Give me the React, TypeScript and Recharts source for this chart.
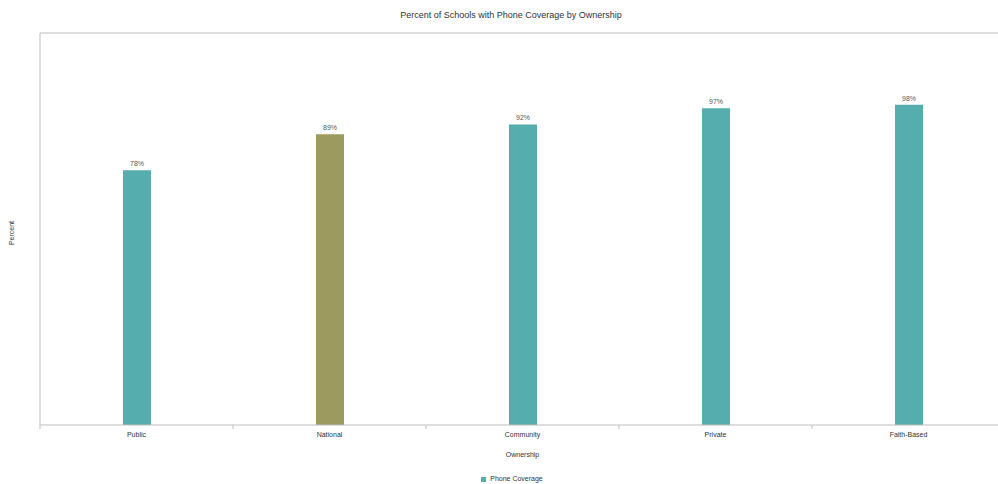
import { BarChart, Bar, XAxis, YAxis, Legend, Cell, LabelList, ReferenceLine } from "recharts";

// categorias y valores
const categorias = ["Public", "National", "Community", "Private", "Faith-Based"];
const cobertura = [78, 89, 92, 97, 98];
const colores = ["#56adae", "#9c9a5f", "#56adae", "#56adae", "#56adae"];

const datos = categorias.map((c, i) => ({ ownership: c, value: cobertura[i] }));

const gris = "#bdbdbd";
const fuente = "'Liberation Sans', Arial, sans-serif";

// tick con marca en el borde izquierdo de cada categoria
function TickCategoria(props: any) {
  const { x, y, payload, width } = props;
  const banda = (width || 965) / categorias.length;
  const bx = x - banda / 2;
  return (
    <g>
      <line x1={bx} x2={bx} y1={y - 7} y2={y - 3} stroke={gris} />
      <text x={x} y={y} dy="0.71em" textAnchor="middle" fontSize={7} fill="#333" fontFamily={fuente}>
        {payload.value}
      </text>
    </g>
  );
}

export default function App() {
  return (
    <div style={{ position: "absolute", left: 0, top: 0, width: 998, height: 484, overflow: "hidden", background: "#fff", fontFamily: fuente }}>
      <div style={{ position: "absolute", top: 10, left: 0, width: 1022, textAlign: "center", fontSize: 9, color: "#333" }}>
        Percent of Schools with Phone Coverage by Ownership
      </div>

      <BarChart
        width={1022}
        height={484}
        data={datos}
        margin={{ top: 33, right: 17, bottom: 27, left: 0 }}
      >
        <ReferenceLine y={120} stroke={gris} ifOverflow="extendDomain" />

        <XAxis
          dataKey="ownership"
          interval={0}
          height={32}
          stroke={gris}
          tickLine={false}
          tickSize={5}
          tickMargin={2}
          tick={<TickCategoria />}
          label={{ value: "Ownership", position: "insideBottom", offset: 0, fontSize: 7, fill: "#333" }}
        />

        <YAxis
          domain={[0, 120]}
          width={40}
          tick={false}
          tickLine={false}
          stroke={gris}
          label={{ value: "Percent", angle: -90, position: "center", dx: -8, dy: 4, fontSize: 7, fill: "#333" }}
        />

        <Legend
          verticalAlign="middle"
          align="center"
          iconType="square"
          iconSize={5}
          wrapperStyle={{ top: 475, left: 6, width: 1022, fontSize: 7, color: "#333" }}
          formatter={(v) => <span style={{ color: "#333" }}>{v}</span>}
        />

        <Bar dataKey="value" name="Phone Coverage" fill="#56adae" barSize={28} isAnimationActive={false}>
          {datos.map((d, i) => (
            <Cell key={d.ownership} fill={colores[i]} />
          ))}
          <LabelList
            dataKey="value"
            position="top"
            offset={4}
            formatter={(v: any) => v + "%"}
            fontSize={7}
            fill="#555"
          />
        </Bar>
      </BarChart>
    </div>
  );
}
